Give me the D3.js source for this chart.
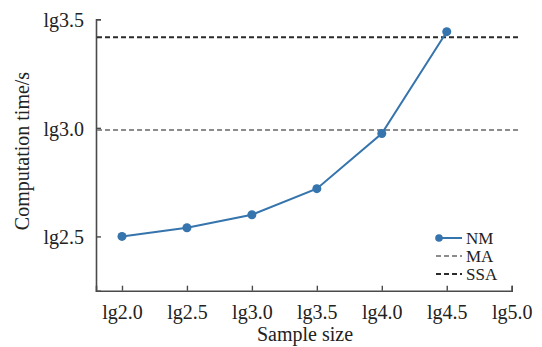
<!DOCTYPE html>
<html>
<head>
<meta charset="utf-8">
<script src="https://cdn.jsdelivr.net/npm/d3@7"></script>
<style>
  body { margin: 0; background: #fff; }
  text { font-family: "Liberation Serif", "Times New Roman", serif; fill: #222; }
</style>
</head>
<body>
<svg id="chart" width="542" height="347"></svg>
<script>
// data
var sampleSize = [2.0, 2.5, 3.0, 3.5, 4.0, 4.5];
var nmTime     = [2.50, 2.54, 2.60, 2.72, 2.974, 3.443];
var maTime  = 2.99;
var ssaTime = 3.417;
var refSpan = [1.8, 5.065];   // horizontal extent of the reference lines
var xTicks = [2.0, 2.5, 3.0, 3.5, 4.0, 4.5, 5.0];
var yTicks = [2.5, 3.0, 3.5];
var legendNames = ["NM", "MA", "SSA"];

var svg = d3.select("#chart");
var blue = "#3574ac", grey = "#8c8c8c", dark = "#2b2b2b", axisCol = "#4a4a4a";

var x = d3.scaleLinear().domain([1.8, 5.0]).range([96, 511.7]);
var y = d3.scaleLinear().domain([2.25, 3.5]).range([290.7, 19.3]);

// axes (ticks point inside)
var xAxis = d3.axisBottom(x).tickValues(xTicks).tickSizeInner(-5).tickSizeOuter(-5)
    .tickPadding(14).tickFormat(function(d) { return "lg" + d.toFixed(1); });
var yAxis = d3.axisLeft(y).tickValues(yTicks).tickSizeInner(-5).tickSizeOuter(-5)
    .tickPadding(12).tickFormat(function(d) { return "lg" + d.toFixed(1); });

var gx = svg.append("g").attr("transform", "translate(0,290.7)").call(xAxis);
var gy = svg.append("g").attr("transform", "translate(96,0)").call(yAxis);
[gx, gy].forEach(function(g) {
    g.select(".domain").attr("stroke", axisCol).attr("stroke-width", 1.6);
    g.selectAll(".tick line").attr("stroke", axisCol).attr("stroke-width", 1.4);
    g.selectAll(".tick text").attr("font-size", 20)
	.attr("font-family", "Liberation Serif").attr("fill", "#222");
});
gy.selectAll(".tick text").attr("dy", "0.36em");

// axis titles
svg.append("text").attr("x", 305).attr("y", 341).attr("text-anchor", "middle")
    .attr("font-size", 20).text("Sample size");
svg.append("text").attr("transform", "translate(29,151) rotate(-90)")
    .attr("text-anchor", "middle").attr("font-size", 20).text("Computation time/s");

// reference lines
var refs = [{v: maTime, c: grey}, {v: ssaTime, c: dark}];
svg.selectAll("line.ref").data(refs).enter().append("line")
    .attr("class", "ref")
    .attr("x1", x(refSpan[0]) + 1).attr("x2", x(refSpan[1]))
    .attr("y1", function(d) { return y(d.v); })
    .attr("y2", function(d) { return y(d.v); })
    .attr("stroke", function(d) { return d.c; })
    .attr("stroke-width", 2).attr("stroke-dasharray", "5,3");

// NM series
var pts = sampleSize.map(function(s, i) { return [s, nmTime[i]]; });
svg.append("path").datum(pts)
    .attr("fill", "none").attr("stroke", blue).attr("stroke-width", 2)
    .attr("d", d3.line().x(function(d) { return x(d[0]); }).y(function(d) { return y(d[1]); }));
svg.selectAll("circle.nm").data(pts).enter().append("circle")
    .attr("class", "nm")
    .attr("cx", function(d) { return x(d[0]); })
    .attr("cy", function(d) { return y(d[1]); })
    .attr("r", 4.5).attr("fill", blue);

// legend
var leg = svg.append("g").attr("transform", "translate(436,238)");
var styles = [{c: blue, dash: null}, {c: grey, dash: "5,3"}, {c: dark, dash: "5,3"}];
legendNames.forEach(function(name, i) {
    var row = leg.append("g").attr("transform", "translate(0," + i * 18 + ")");
    row.append("line").attr("x1", i == 0 ? 3 : 0).attr("x2", 26).attr("y1", 0).attr("y2", 0)
	.attr("stroke", styles[i].c).attr("stroke-width", 2)
	.attr("stroke-dasharray", styles[i].dash);
    if (i == 0) row.append("circle").attr("cx", 3).attr("cy", 0).attr("r", 3.8).attr("fill", blue);
    row.append("text").attr("x", 30).attr("y", 0).attr("dy", "0.34em")
	.attr("font-size", 17).text(name);
});
</script>
</body>
</html>
